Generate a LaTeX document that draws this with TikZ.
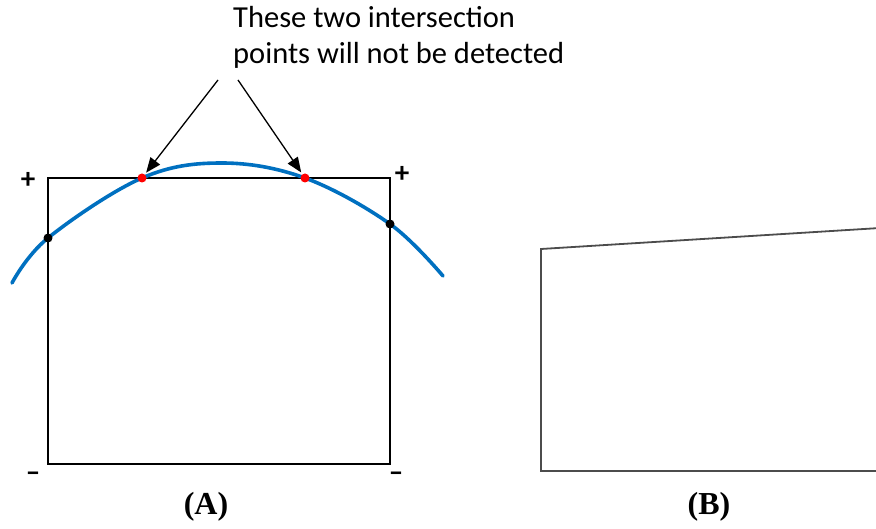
\documentclass[tikz,border=0pt]{standalone}
\usepackage{fontspec}
\setmainfont{Liberation Serif}
\newfontfamily\notefont{Carlito}
\usetikzlibrary{arrows.meta}
\definecolor{curveblue}{RGB}{0,112,192}
\begin{document}
\begin{tikzpicture}[
		x=1pt,
		y=-1pt,
		font=\notefont\fontsize{30.5}{36}\selectfont,
		box/.style={line width=2.6pt, line join=miter},
		sign/.style={font=\notefont\fontsize{29}{29}\selectfont\bfseries, inner sep=0pt},
		hitdot/.style={circle, fill=black, inner sep=0pt, minimum size=9pt},
		missdot/.style={circle, fill=red, inner sep=0pt, minimum size=9pt},
		pointer/.style={-{Triangle[length=15pt,width=12pt]}, line width=1.3pt, shorten >=2pt},
		caption/.style={font=\rmfamily\bfseries\fontsize{32}{32}\selectfont}
	]
	\useasboundingbox (0,0) rectangle (876,529);

	% ---- caixa (A) -------------------------------------------------
	\coordinate (tl) at (48,178);
	\coordinate (tr) at (390,178);
	\coordinate (br) at (390,464);
	\coordinate (bl) at (48,464);
	\draw[box] (tl) -- (tr) -- (br) -- (bl) -- cycle;

	% ---- curva -----------------------------------------------------
	\draw[curveblue, line width=3.6pt, line cap=round]
		plot[smooth, tension=0.6] coordinates {(12,283) (48,238) (142,178) (222,163) (305,178) (390,224) (443,276)};

	% ---- intersecoes -----------------------------------------------
	\node[hitdot] (hitL) at (48,238) {};
	\node[hitdot] (hitR) at (390,224) {};
	\node[missdot] (missL) at (142,178) {};
	\node[missdot] (missR) at (305,178) {};

	% ---- sinais nos cantos -----------------------------------------
	\node[sign] (plusL) at (28,180) {+};
	\node[sign] (plusR) at (402,174) {+};
	\node[sign] (minusL) at (33,477) {–};
	\node[sign] (minusR) at (396,477) {–};

	% ---- nota e setas ----------------------------------------------
	\node[anchor=base west, align=left, inner sep=0pt] (note) at (233,64)
		{These two intersection\\points will not be detected};
	\coordinate (fromL) at (218,80);
	\coordinate (fromR) at (238,80);
	\draw[pointer] (fromL) -- (missL);
	\draw[pointer] (fromR) -- (missR);

	% ---- figura (B) ------------------------------------------------
	\coordinate (btl) at (541,249);
	\coordinate (btr) at (880,228);
	\coordinate (bbl) at (541,471);
	\coordinate (bbr) at (880,471);
	\draw[black!70, line width=1.8pt] (btr) -- (btl) -- (bbl) -- (bbr);

	% ---- legendas --------------------------------------------------
	\node[caption] (capA) at (206,507) {(A)};
	\node[caption] (capB) at (709,507) {(B)};
\end{tikzpicture}
\end{document}
